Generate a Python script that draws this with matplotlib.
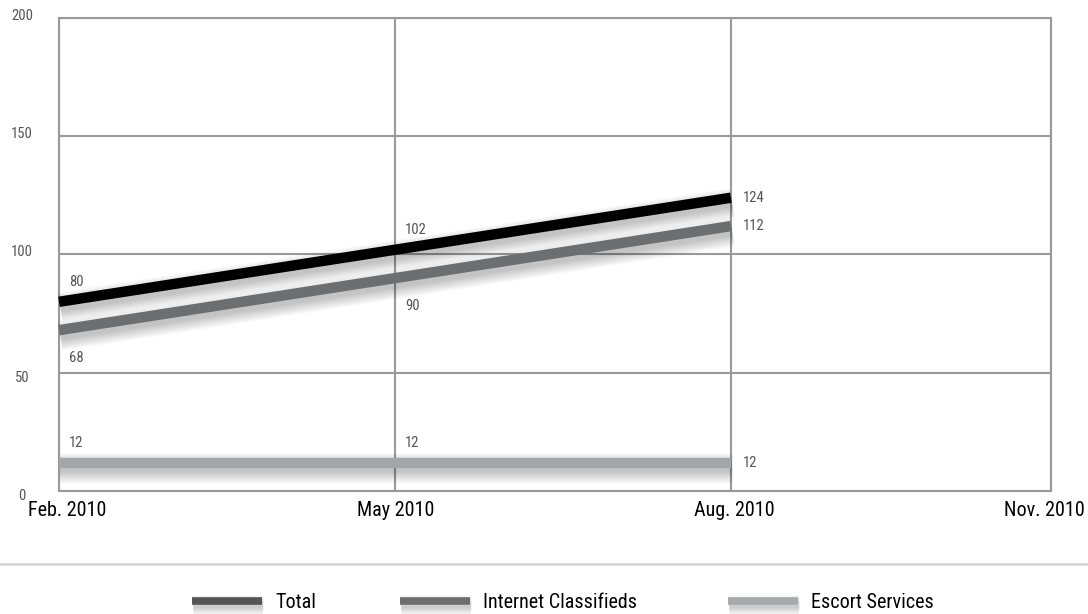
import matplotlib
matplotlib.use("Agg")
import matplotlib.pyplot as plt
import matplotlib.patheffects as pe
import matplotlib.transforms as mtransforms
from matplotlib.lines import Line2D

plt.rcParams['font.family'] = ['Roboto Condensed', 'Liberation Sans Narrow', 'DejaVu Sans']
plt.rcParams['font.stretch'] = 'condensed'

# data
months = ['Feb. 2010', 'May 2010', 'Aug. 2010', 'Nov. 2010']
series_names = ['Total', 'Internet Classifieds', 'Escort Services']
total = [80, 102, 124]
internet = [68, 90, 112]
escort = [12, 12, 12]
values = [total, internet, escort]
line_colors = ['#000000', '#6d6e70', '#a3a6a9']
legend_colors = ['#555555', '#6e6e6e', '#a7a9ab']
# label placement: 'up' / 'down' for first points, last point always to the right
label_side = ['up', 'down', 'up']

grid_color = '#999999'
text_gray = '#555555'


def shadow_effects(lw, n=12, spread=16, off=(1, -4), alpha=0.018):
    # fake a soft drop shadow with several faint, widening layers
    effects = []
    for i in range(n):
        effects.append(pe.SimpleLineShadow(offset=off, shadow_color='black',
                                           alpha=alpha,
                                           linewidth=lw * 0.8 + spread * i / (n - 1)))
    effects.append(pe.Normal())
    return effects


fig = plt.figure(figsize=(10.88, 6.14), dpi=100)
ax = fig.add_axes([59 / 1088, 1 - 491 / 614, (1051 - 59) / 1088, (491 - 18) / 614])

xmax = 2.953  # last month sits on the right edge
ax.set_xlim(0, xmax)
ax.set_ylim(0, 200)
ax.set_xticks([0, 1, 2, xmax])
ax.set_yticks([0, 50, 100, 150, 200])
ax.grid(True, color=grid_color, linewidth=1.5, zorder=0)
for sp in ax.spines.values():
    sp.set_color(grid_color)
    sp.set_linewidth(1.5)
ax.tick_params(length=0)
ax.set_xticklabels(months, fontsize=14.5, color='black')
ax.tick_params(axis='x', pad=7)
# pull the outer month labels slightly inward
shifts = [8, 1, 3, -7]
for lab, dx in zip(ax.get_xticklabels(), shifts):
    lab.set_transform(lab.get_transform() + mtransforms.ScaledTranslation(dx / 100, 0, fig.dpi_scale_trans))

ax.set_yticklabels([])
for t in [0, 50, 100, 150, 200]:
    ax.annotate(str(t), xy=(0, t), xycoords=('axes fraction', 'data'),
                xytext=(-37, -5 if t in (0, 50) else 2), textcoords='offset pixels',
                ha='center', va='center', fontsize=10.5, color=text_gray)

lw = 7.5
for vals, col, side in zip(values, line_colors, label_side):
    xs = list(range(len(vals)))
    ax.plot(xs, vals, color=col, linewidth=lw, solid_capstyle='butt', zorder=3,
            path_effects=shadow_effects(lw), clip_on=False)
    for i, v in enumerate(vals):
        if i == len(vals) - 1:
            off = (12, 0)
        elif side == 'up':
            off = (10, 20)
        else:
            off = (10, -28)
        ax.annotate(str(v), xy=(i, v), xytext=off, textcoords='offset pixels',
                    ha='left', va='center', fontsize=10.5, color=text_gray, zorder=4)

# separator line above the legend
fig.add_artist(Line2D([0, 1], [1 - 564 / 614] * 2, color='#d4d4d4', linewidth=1.8,
                      transform=fig.transFigure))

# legend
swatch_x = [192, 400, 728]
ly = 1 - 601 / 614
for name, col, sx in zip(series_names, legend_colors, swatch_x):
    sw = Line2D([sx / 1088, (sx + 70) / 1088], [ly, ly], color=col, linewidth=5.5,
                solid_capstyle='butt', transform=fig.transFigure,
                path_effects=shadow_effects(5.5, 10, 10, (1, -3)))
    fig.add_artist(sw)
    fig.text((sx + 83) / 1088, ly - 2 / 614, name, ha='left', va='center', fontsize=14.5,
             color='black')

fig.savefig('out.png', dpi=100)
